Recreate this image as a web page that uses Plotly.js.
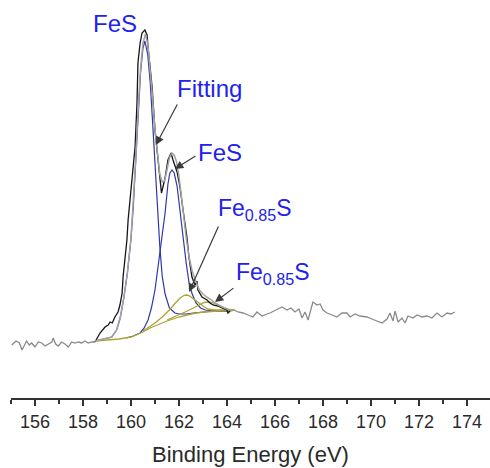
<!DOCTYPE html>
<html>
<head>
<meta charset="utf-8">
<script src="https://cdn.plot.ly/plotly-3.0.1.min.js"></script>
<style>html,body{margin:0;padding:0;background:#fff;}#chart{width:490px;height:468px;}</style>
</head>
<body>
<div id="chart"></div>
<script>
// Raw spectrum outside the fitted window (grey)
var rawLeftE = [155.03,155.21,155.35,155.46,155.65,155.76,155.86,156.00,156.14,156.28,156.42,156.55,156.70,156.76,156.86,156.97,157.11,157.25,157.39,157.53,157.67,157.80,157.95,158.08,158.22,158.36,158.50];
var rawLeftI = [53,57,55,48,57,53,55,51,56,55,52,54,56,60,54,52,56,54,51,56,55,56,55,57,55,56,56];
var rawRightE = [164.13,164.29,164.46,164.67,164.88,165.08,165.25,165.46,165.67,165.79,166.04,166.29,166.50,166.67,166.83,167.00,167.13,167.25,167.38,167.58,167.75,167.88,168.00,168.17,168.38,168.58,168.79,169.00,169.13,169.33,169.54,169.83,170.04,170.25,170.46,170.67,170.79,170.92,171.00,171.13,171.29,171.42,171.54,171.75,171.92,172.13,172.33,172.54,172.75,172.96,173.17,173.33,173.50];
var rawRightI = [87,88,86,85,83,81,86,82,84,85,88,91,88,90,86,89,80,86,78,96,93,94,88,85,83,81,85,85,81,84,82,81,79,77,75,79,85,77,87,76,80,75,82,80,83,81,82,80,85,81,85,84,86];

// Measured data in fitted window (black)
var dataE = [158.50,158.71,158.92,159.05,159.13,159.22,159.33,159.46,159.54,159.63,159.67,159.75,159.83,159.88,159.96,160.04,160.17,160.25,160.29,160.38,160.46,160.58,160.67,160.71,160.88,161.00,161.08,161.21,161.27,161.42,161.54,161.67,161.75,161.92,162.04,162.17,162.33,162.42,162.54,162.67,162.75,162.79,162.96,163.17,163.29,163.42,163.63,163.79,164.00,164.04,164.13];
var dataI = [56,65,71,73,76,75,81,86,93,105,121,138,158,178,198,213,251,295,335,355,365,368,363,351,311,268,251,223,205,220,238,245,238,226,211,188,161,140,121,113,117,108,101,98,95,93,92,90,88,85,87];

// Fitting envelope (light grey)
var fitE = [158.50,158.90,159.20,159.40,159.55,159.70,159.85,160.00,160.10,160.20,160.30,160.40,160.50,160.60,160.70,160.80,160.90,161.00,161.10,161.20,161.30,161.40,161.50,161.60,161.70,161.80,161.90,162.00,162.10,162.21,162.30,162.42,162.55,162.71,162.85,163.00,163.15,163.30,163.50,163.80,164.00,164.20];
var fitI = [57,59,61,68,80,100,125,160,195,240,290,330,355,364,354,330,300,268,242,224,216,217,228,240,245,243,236,222,202,177,160,141,127,116,108,104,101,99,95,91,89,88];

// FeS component 1 (blue)
var fes1E = [158.50,158.90,159.20,159.40,159.55,159.70,159.85,160.00,160.10,160.20,160.30,160.40,160.50,160.58,160.70,160.80,160.90,161.00,161.10,161.20,161.30,161.42,161.60,161.83,162.00,162.30,162.60,163.00,163.50,164.00];
var fes1I = [57,59,61,68,80,100,125,159,193,238,286,326,350,357,343,316,276,234,190,152,122,104,90,85,84,84,85,86,87,87];

// FeS component 2 (blue)
var fes2E = [159.80,160.10,160.38,160.55,160.71,160.85,161.00,161.10,161.21,161.32,161.42,161.54,161.62,161.71,161.80,161.92,162.00,162.10,162.21,162.30,162.42,162.55,162.71,162.90,163.10,163.40,163.80,164.10];
var fes2I = [60,62,65,70,78,90,108,126,148,166,185,214,225,228,225,212,195,175,152,135,115,104,95,90,88,87,87,87];

// Background (olive)
var bgE = [158.50,159.00,159.50,160.00,160.50,160.80,161.00,161.50,162.00,162.50,163.00,163.50,164.00,164.30];
var bgI = [57,58,59,61,66,70,72,77,81,84,86,87,88,88];

// Fe0.85S component 1 (olive)
var fe85aE = [160.50,161.00,161.30,161.60,161.85,162.05,162.20,162.30,162.42,162.60,162.80,163.00,163.20,163.50,163.80,164.10];
var fe85aI = [67,75,81,88,95,100,102.5,103,102.5,99,95,92,89,88,88,88];

// Fe0.85S component 2 (olive)
var fe85bE = [161.50,162.00,162.30,162.60,162.85,163.05,163.25,163.45,163.65,163.85,164.05,164.30];
var fe85bI = [78,83,86.5,90,93.5,95.5,96,95,93,90.5,88.5,88];

var xTickStart = 156, xTickStep = 2;
var labelFeS = 'FeS', labelFit = 'Fitting', labelFe85 = 'Fe<sub>0.85</sub>S';

var blue = '#3535a8', olive = '#aca334';
function line(x, y, color, w) {
  return {x: x, y: y, type: 'scatter', mode: 'lines', line: {color: color, width: w, shape: 'linear'}, hoverinfo: 'skip'};
}
var traces = [
  line(rawLeftE, rawLeftI, '#8a8a8a', 1.3),
  line(rawRightE, rawRightI, '#8a8a8a', 1.3),
  line(fes1E, fes1I, blue, 1.2),
  line(fes2E, fes2I, blue, 1.2),
  line(bgE, bgI, olive, 1.3),
  line(fe85aE, fe85aI, olive, 1.3),
  line(fe85bE, fe85bI, olive, 1.3),
  line(dataE, dataI, '#151515', 1.3),
  line(fitE, fitI, '#a2a2a2', 1.5)
];

var fontFam = 'Liberation Sans, Arial, sans-serif';
function label(t, x, y, size) {
  return {text: t, x: x, y: y, xref: 'x', yref: 'y', showarrow: false,
          font: {family: fontFam, size: size, color: '#2222ee'}, xanchor: 'center', yanchor: 'middle'};
}
function arrow(x, y, ax, ay) {
  return {text: '', x: x, y: y, ax: ax, ay: ay, xref: 'x', yref: 'y', axref: 'x', ayref: 'y',
          showarrow: true, arrowhead: 2, arrowsize: 1.4, arrowwidth: 1.2, arrowcolor: '#3a3a3a', standoff: 0};
}

var layout = {
  width: 490, height: 468,
  margin: {l: 11, r: 0, t: 10, b: 70},
  paper_bgcolor: '#fff', plot_bgcolor: '#fff',
  showlegend: false,
  font: {family: fontFam, color: '#222'},
  xaxis: {
    range: [155, 174.96], tickmode: 'linear', tick0: xTickStart, dtick: xTickStep,
    ticks: 'outside', ticklen: 6, tickwidth: 2, tickcolor: '#333',
    showline: true, linecolor: '#333', linewidth: 2,
    showgrid: false, zeroline: false,
    tickfont: {size: 18, color: '#2a2a2a'},
    minor: {tick0: 155, dtick: 1, ticks: 'outside', ticklen: 4, tickwidth: 1.5, tickcolor: '#333', showgrid: false},
    title: {text: 'Binding Energy (eV)', font: {size: 22, color: '#2a2a2a'}, standoff: 16}
  },
  yaxis: {range: [0, 388], visible: false},
  annotations: [
    label(labelFeS, 159.33, 375, 24),
    label(labelFit, 163.29, 310, 24),
    label(labelFeS, 163.71, 246, 24),
    label(labelFe85, 165.17, 189, 23),
    label(labelFe85, 165.92, 125, 23),
    arrow(161.04, 253, 161.96, 295),
    arrow(161.83, 229, 162.75, 243),
    arrow(162.42, 106, 163.67, 173),
    arrow(163.5, 96, 164.33, 111)
  ]
};

Plotly.newPlot('chart', traces, layout, {displayModeBar: false, staticPlot: true});
</script>
</body>
</html>
